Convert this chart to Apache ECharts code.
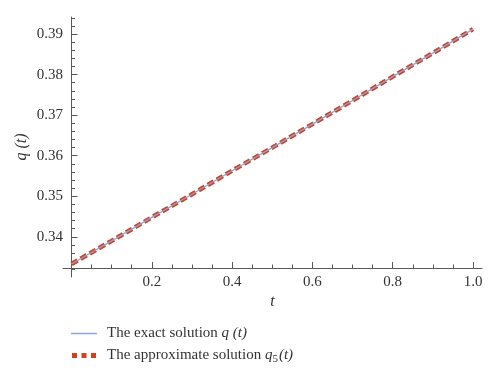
<!DOCTYPE html>
<html>
<head>
<meta charset="utf-8">
<script src="https://cdn.jsdelivr.net/npm/echarts@6/dist/echarts.min.js"></script>
<style>html,body{margin:0;padding:0;background:#fff}#c{width:500px;height:381px}</style>
</head>
<body>
<div id="c"></div>
<script>
const tValues = [0, 0.1, 0.2, 0.3, 0.4, 0.5, 0.6, 0.7, 0.8, 0.9, 1.0];
const exactValues = [0.3333, 0.3390, 0.3448, 0.3505, 0.3563, 0.3620, 0.3678, 0.3736, 0.3795, 0.3853, 0.3912];
const approxValues = [0.3333, 0.3390, 0.3448, 0.3505, 0.3563, 0.3620, 0.3678, 0.3736, 0.3795, 0.3853, 0.3912];
const xMajorTicks = [0.2, 0.4, 0.6, 0.8, 1.0];
const xMinorTicks = [0.05, 0.1, 0.15, 0.25, 0.3, 0.35, 0.45, 0.5, 0.55, 0.65, 0.7, 0.75, 0.85, 0.9, 0.95];
const yMajorTicks = [0.34, 0.35, 0.36, 0.37, 0.38, 0.39];
const yMinorTicks = [0.332, 0.334, 0.336, 0.338, 0.342, 0.344, 0.346, 0.348, 0.352, 0.354, 0.356, 0.358,
  0.362, 0.364, 0.366, 0.368, 0.372, 0.374, 0.376, 0.378, 0.382, 0.384, 0.386, 0.388, 0.392, 0.394];
const seriesNames = ['exact', 'approx'];

const FONT = '"Liberation Serif", "DejaVu Serif", serif';
const AX = '#595959';
const RED = '#d2401c', BLUE = '#8aa5dc';
const X_MIN = -0.0212, X_MAX = 1.0224, Y_MIN = 0.3301, Y_MAX = 0.3942;

const chart = echarts.init(document.getElementById('c'), null, {renderer: 'canvas'});
const xBase = {
  type: 'value', min: X_MIN, max: X_MAX, position: 'bottom', offset: -9,
  splitLine: {show: false}, minorTick: {show: false}
};
const yBase = {
  type: 'value', min: Y_MIN, max: Y_MAX, position: 'left',
  splitLine: {show: false}
};
const ICON_LINE = 'path://M0,0h26v0.01h-26zM0,5.3h26v1.4h-26zM0,11.99h26v0.01h-26z';
const ICON_DASH = 'path://M0,0h26v0.01h-26zM1,3.5h5v5h-5zM10.5,3.5h5v5h-5zM20,3.5h5v5h-5zM0,11.99h26v0.01h-26z';
chart.setOption({
  animation: false,
  grid: {left: 63, right: 18, top: 17, bottom: 104, outerBoundsMode: 'none', containLabel: false},
  xAxis: [
    Object.assign({}, xBase, {
      name: 't', nameLocation: 'middle', nameGap: 26, nameMoveOverlap: false,
      nameTextStyle: {fontFamily: FONT, fontStyle: 'italic', fontSize: 16, color: '#333'},
      axisLine: {show: true, onZero: false, lineStyle: {color: AX, width: 1}},
      axisTick: {show: true, inside: true, length: 6, customValues: xMajorTicks, lineStyle: {color: AX}},
      axisLabel: {show: true, customValues: xMajorTicks, margin: 7, fontFamily: FONT, fontSize: 15, color: '#333',
        formatter: v => v.toFixed(1)}
    }),
    Object.assign({}, xBase, {
      axisLine: {show: false, onZero: false},
      axisTick: {show: true, inside: true, length: 3.5, customValues: xMinorTicks, lineStyle: {color: AX}},
      axisLabel: {show: false}
    })
  ],
  yAxis: [
    Object.assign({}, yBase, {
      name: 'q (t)', nameLocation: 'middle', nameGap: 33, nameRotate: 90, nameMoveOverlap: false,
      nameTextStyle: {fontFamily: FONT, fontStyle: 'italic', fontSize: 16, color: '#333'},
      axisLine: {show: true, onZero: true, onZeroAxisIndex: 0, lineStyle: {color: AX, width: 1}},
      axisTick: {show: true, inside: true, length: 6, customValues: yMajorTicks, lineStyle: {color: AX}},
      axisLabel: {show: true, customValues: yMajorTicks, margin: 0, fontFamily: FONT, fontSize: 15, color: '#333',
        formatter: v => v.toFixed(2)}
    }),
    Object.assign({}, yBase, {
      axisLine: {show: false, onZero: true, onZeroAxisIndex: 0},
      axisTick: {show: true, inside: true, length: 3.5, customValues: yMinorTicks, lineStyle: {color: AX}},
      axisLabel: {show: false}
    })
  ],
  legend: {
    orient: 'vertical', left: 71, top: 326, itemWidth: 26, itemHeight: 12, itemGap: 7, padding: 0,
    data: [
      {name: seriesNames[0], icon: ICON_LINE, itemStyle: {color: BLUE}},
      {name: seriesNames[1], icon: ICON_DASH, itemStyle: {color: RED}}
    ],
    textStyle: {fontFamily: FONT, fontSize: 15, color: '#333', padding: [0, 0, 0, 5],
      rich: {
        n: {fontFamily: FONT, fontSize: 15, color: '#333'},
        i: {fontFamily: FONT, fontSize: 15, color: '#333', fontStyle: 'italic'},
        s: {fontFamily: FONT, fontSize: 11, color: '#333', padding: [8, 1, 0, 0]}
      }},
    formatter: function (name) {
      if (name === 'exact') return '{n|The exact solution }{i|q (t)}';
      return '{n|The approximate solution }{i|q}{s|5}{i|(t)}';
    }
  },
  series: [
    {
      name: 'approx', type: 'line', xAxisIndex: 0, yAxisIndex: 0, z: 2,
      data: tValues.map((t, i) => [t, approxValues[i]]),
      showSymbol: false, symbol: 'none', smooth: false,
      lineStyle: {color: RED, width: 4.5, type: [7, 3.5]},
      itemStyle: {color: RED}
    },
    {
      name: 'exact', type: 'line', xAxisIndex: 0, yAxisIndex: 0, z: 3,
      data: tValues.map((t, i) => [t, exactValues[i]]),
      showSymbol: false, symbol: 'none', smooth: false,
      lineStyle: {color: BLUE, width: 1.3},
      itemStyle: {color: BLUE}
    }
  ]
});
</script>
</body>
</html>
